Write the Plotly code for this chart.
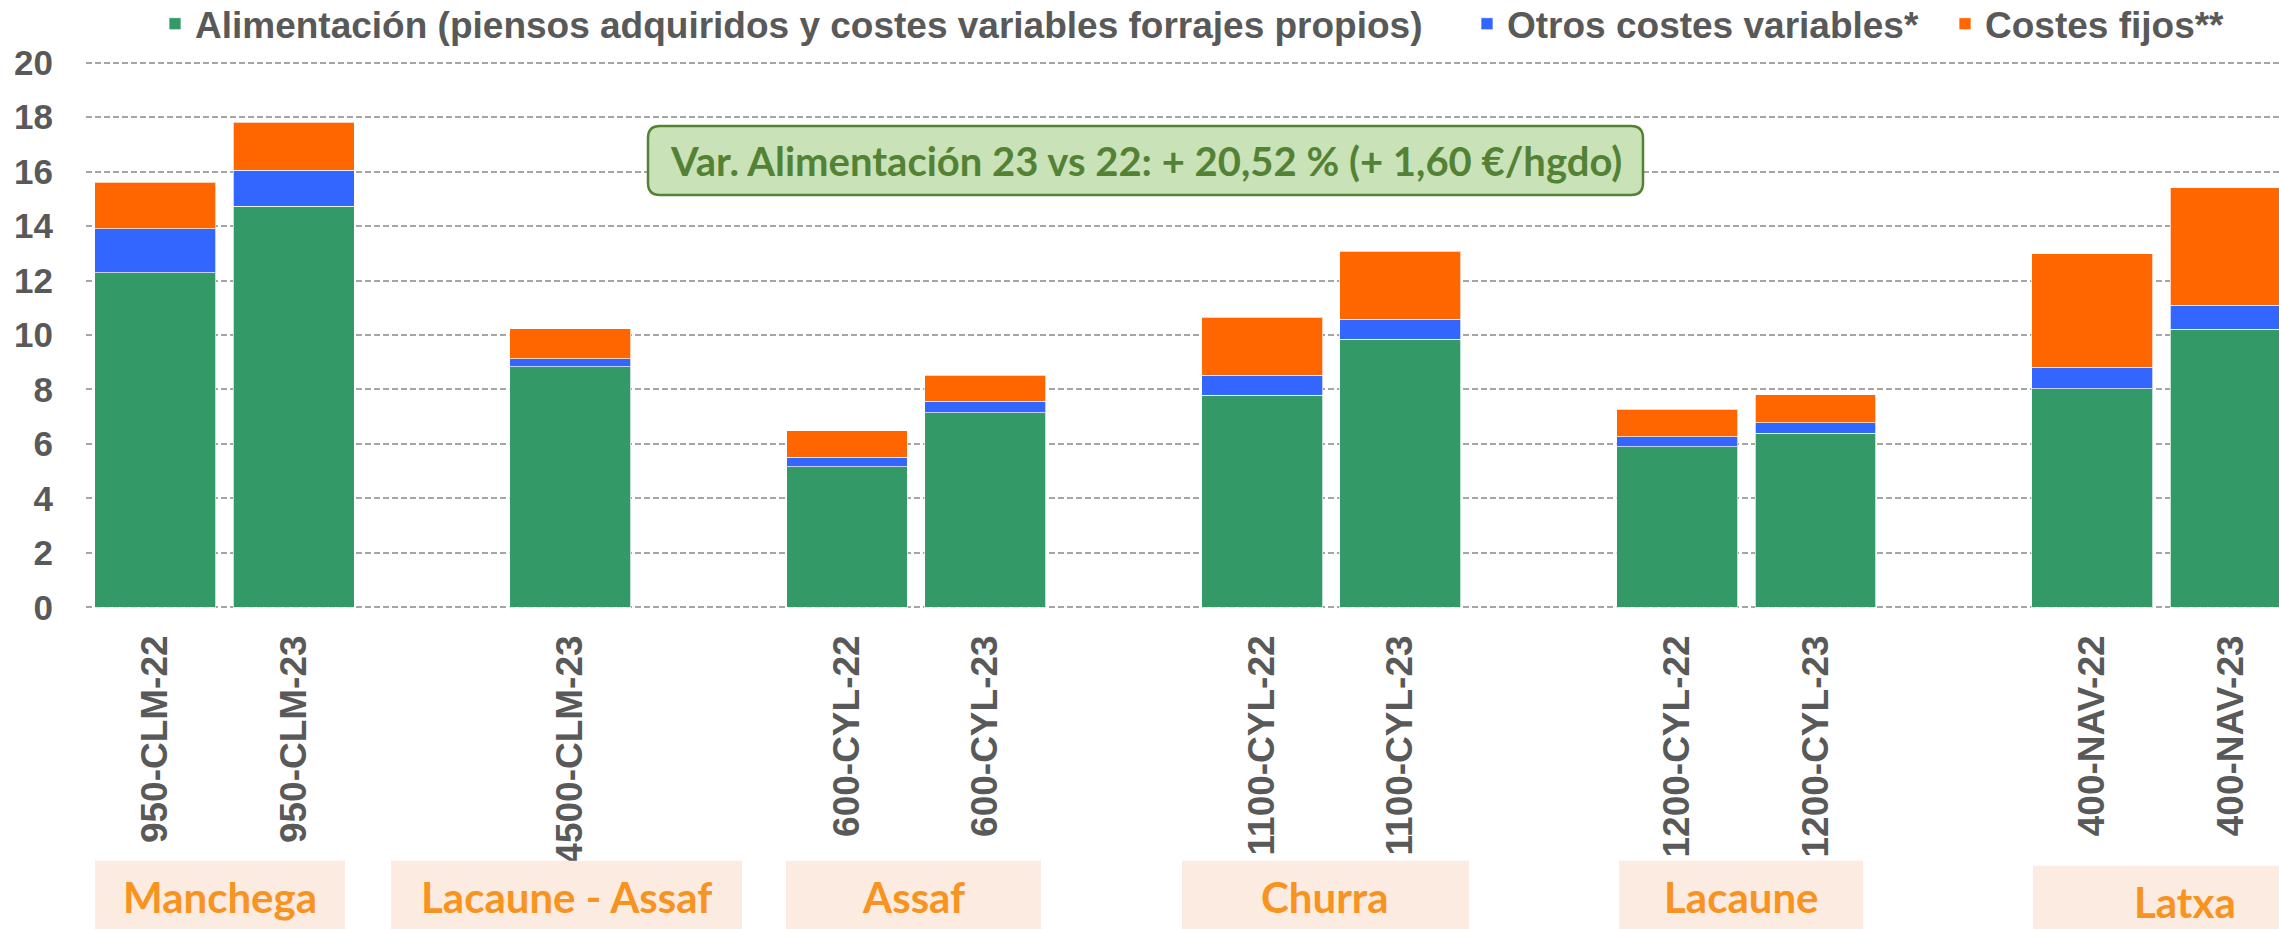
import plotly.graph_objects as go

# ---------------- data ----------------
categories = ["950-CLM-22", "950-CLM-23", "", "4500-CLM-23", "",
              "600-CYL-22", "600-CYL-23", "", "1100-CYL-22", "1100-CYL-23", "",
              "1200-CYL-22", "1200-CYL-23", "", "400-NAV-22", "400-NAV-23"]
alimentacion = [12.29, 14.72, None, 8.83, None, 5.16, 7.14, None, 7.79, 9.84, None, 5.89, 6.40, None, 8.02, 10.21]
otros_variables = [1.61, 1.32, None, 0.30, None, 0.36, 0.43, None, 0.73, 0.74, None, 0.37, 0.37, None, 0.79, 0.88]
costes_fijos = [1.70, 1.77, None, 1.10, None, 0.97, 0.96, None, 2.13, 2.49, None, 1.02, 1.03, None, 4.17, 4.32]
series_names = ["Alimentación (piensos adquiridos y costes variables forrajes propios)",
                "Otros costes variables*", "Costes fijos**"]
breeds = ["Manchega", "Lacaune - Assaf", "Assaf", "Churra", "Lacaune", "Latxa"]
y_ticks = [0, 2, 4, 6, 8, 10, 12, 14, 16, 18, 20]
note_text = "Var. Alimentación 23 vs 22: + 20,52 % (+ 1,60 €/hgdo)"

# ---------------- layout constants (pixels) ----------------
W, H = 2279, 929
PLOT_L, PLOT_R = 86, 2279
Y0PX, Y20PX = 607.5, 62.5
YPAD = 0.06
ppu = (Y0PX - Y20PX) / 20.0
plot_top = Y20PX - YPAD * ppu
plot_bot = Y0PX + YPAD * ppu
plot_h = plot_bot - plot_top
plot_w = PLOT_R - PLOT_L

def px_x(p):
    return (p - PLOT_L) / plot_w

def px_y(p):
    return (plot_bot - p) / plot_h

GRAY = "#595959"
colors = ["#339966", "#3366FF", "#FF6600"]
x_idx = list(range(len(categories)))

fig = go.Figure()
legend_ids = ["legend", "legend2", "legend3"]
for vals, name, col, lg in zip([alimentacion, otros_variables, costes_fijos], series_names, colors, legend_ids):
    fig.add_trace(go.Bar(x=x_idx, y=vals, name=name, legend=lg,
                         marker=dict(color=col, line=dict(color="rgba(255,255,255,0.7)", width=1))))

legend_text_starts = [195, 1507, 1985]
legend_font = dict(family="Liberation Sans, Arial, sans-serif", size=37, color=GRAY, weight="bold")
legends = {}
for lg, ts in zip(legend_ids, legend_text_starts):
    legends[lg] = dict(x=px_x(ts - 40), xanchor="left", y=px_y(24), yanchor="middle",
                       orientation="h", bgcolor="rgba(0,0,0,0)", font=legend_font,
                       borderwidth=0, traceorder="normal")

fig.update_layout(
    width=W, height=H,
    margin=dict(l=PLOT_L, r=W - PLOT_R, t=plot_top, b=H - plot_bot, pad=0, autoexpand=False),
    barmode="stack", bargap=0.126,
    plot_bgcolor="white", paper_bgcolor="white",
    showlegend=True,
    **legends,
    xaxis=dict(range=[-0.5, 15.35], tickmode="array", tickvals=x_idx, ticktext=categories,
               tickangle=-90, showgrid=False, zeroline=False, showline=False, ticks="",
               ticklabelstandoff=18, automargin=False,
               tickfont=dict(family="Liberation Sans, Arial, sans-serif", size=37, color=GRAY, weight="bold")),
    yaxis=dict(range=[-YPAD, 20 + YPAD], tickmode="array", tickvals=y_ticks,
               showgrid=True, gridcolor="#A6A6A6", gridwidth=2, griddash="6px,3px",
               zeroline=False, showline=False, ticks="", ticklabelstandoff=32, automargin=False,
               tickfont=dict(family="Liberation Sans, Arial, sans-serif", size=35, color=GRAY, weight="bold")),
)

# breed group boxes below the axis (drawn above tick labels, as in the original)
box_spans = [(95, 345), (391, 742), (786, 1041), (1182, 1469), (1619, 1863), (2033, 2340)]
box_tops = [861, 861, 861, 861, 861, 866]
text_x = [220, 566, 913, 1325, 1741, 2185]
text_y = [897, 897, 897, 897, 897, 902]
for (x0, x1), top, tx, ty, name in zip(box_spans, box_tops, text_x, text_y, breeds):
    fig.add_shape(type="rect", xref="paper", yref="paper",
                  x0=px_x(x0), x1=px_x(x1), y0=px_y(H + 5), y1=px_y(top),
                  fillcolor="#FBEBE1", line=dict(width=0), layer="above")
    fig.add_annotation(xref="paper", yref="paper", x=px_x(tx), y=px_y(ty),
                       text=name, showarrow=False, xanchor="center", yanchor="middle",
                       font=dict(family="Lato, sans-serif", size=42, color="#F7931E", weight="bold"))

# rounded note box
bx0, bx1, by0, by1, r = 648, 1643, 126, 195, 12
rx, ry = r / plot_w, r / plot_h
X0, X1, YT, YB = px_x(bx0), px_x(bx1), px_y(by0), px_y(by1)
path = (f"M{X0+rx},{YT} L{X1-rx},{YT} Q{X1},{YT} {X1},{YT-ry} L{X1},{YB+ry} Q{X1},{YB} {X1-rx},{YB} "
        f"L{X0+rx},{YB} Q{X0},{YB} {X0},{YB+ry} L{X0},{YT-ry} Q{X0},{YT} {X0+rx},{YT} Z")
fig.add_shape(type="path", xref="paper", yref="paper", path=path,
              fillcolor="#C9E2B8", line=dict(color="#548235", width=2.5))
fig.add_annotation(xref="paper", yref="paper", x=px_x((bx0 + bx1) / 2), y=px_y((by0 + by1) / 2),
                   text=note_text, showarrow=False, xanchor="center", yanchor="middle",
                   font=dict(family="Lato, sans-serif", size=40, color="#548235", weight="bold"))

fig.write_html("out.html", config={"displayModeBar": False},
               post_script="document.body.style.margin='0px';document.body.style.overflow='hidden';")
